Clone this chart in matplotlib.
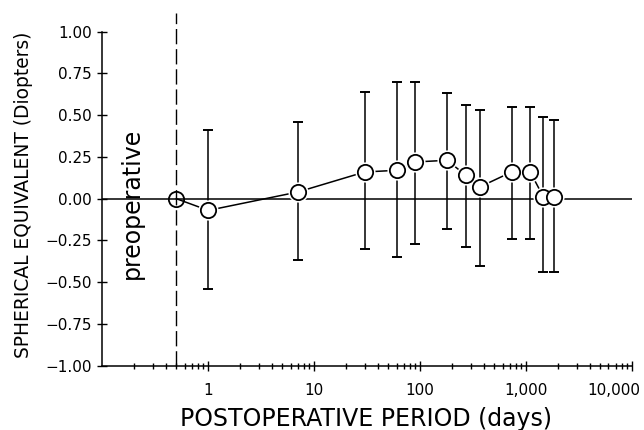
import matplotlib
matplotlib.use("Agg")
import matplotlib.pyplot as plt
from matplotlib.ticker import FixedLocator, FixedFormatter, LogLocator, NullFormatter
from matplotlib.transforms import ScaledTranslation

plt.rcParams['font.family'] = ['DejaVu Sans']

# Data
days = [1, 7, 30, 60, 90, 180, 270, 365, 730, 1095, 1460, 1825]
se_mean = [-0.07, 0.04, 0.16, 0.17, 0.22, 0.23, 0.14, 0.07, 0.16, 0.16, 0.01, 0.01]
se_upper = [0.41, 0.46, 0.64, 0.70, 0.70, 0.63, 0.56, 0.53, 0.55, 0.55, 0.49, 0.47]
se_lower = [-0.54, -0.37, -0.30, -0.35, -0.27, -0.18, -0.29, -0.40, -0.24, -0.24, -0.44, -0.44]
preop_day = 0.5
preop_value = 0.0

yticks = [1.0, 0.75, 0.5, 0.25, 0.0, -0.25, -0.5, -0.75, -1.0]
ytick_labels = ["1.00", "0.75", "0.50", "0.25", "0.00",
                "\u22120.25", "\u22120.50", "\u22120.75", "\u22121.00"]
xticks = [1, 10, 100, 1000, 10000]
xtick_labels = ["1", "10", "100", "1,000", "10,000"]

W, H = 644, 430
fig = plt.figure(figsize=(W / 100, H / 100), dpi=100)
ax_left, ax_right = 102.3, 632.0
ax_top, ax_bot = 13.0, 365.7
ax = fig.add_axes([ax_left / W, 1 - ax_bot / H, (ax_right - ax_left) / W, (ax_bot - ax_top) / H])

ax.set_xscale('log')
ax.set_xlim(0.1, 10000)
ax.set_ylim(-1.0, 1.112)

# zero line and preoperative dashed line
ax.axhline(0, color='black', lw=1.1, zorder=1)
ax.plot([preop_day, preop_day], [-1.0, 1.112], color='black', lw=1.0,
        dashes=(11, 3.5), zorder=1, clip_on=False)

all_x = [preop_day] + days
all_y = [preop_value] + se_mean

# connecting line
ax.plot(all_x, all_y, color='black', lw=1.1, zorder=2)

# error bars
yerr_low = [m - l for m, l in zip(se_mean, se_lower)]
yerr_high = [u - m for m, u in zip(se_mean, se_upper)]
ax.errorbar(days, se_mean, yerr=[yerr_low, yerr_high], fmt='none',
            ecolor='black', elinewidth=1.1, capsize=3.5, capthick=1.4, zorder=2)

# white halos then circles
ax.plot(days, se_mean, 'o', ms=14.5, mfc='white', mec='white', mew=0, zorder=3)
ax.plot(days, se_mean, 'o', ms=11.0, mfc='white', mec='black', mew=1.3, zorder=4)
ax.plot([preop_day], [preop_value], 'o', ms=11.0, mfc='none', mec='black', mew=1.3, zorder=4)

# spines
for s in ['top', 'right']:
    ax.spines[s].set_visible(False)
ax.spines['left'].set_bounds(-1.0, 1.0)
ax.spines['left'].set_linewidth(1.1)
ax.spines['bottom'].set_linewidth(1.1)

# ticks
ax.yaxis.set_major_locator(FixedLocator(yticks))
ax.yaxis.set_major_formatter(FixedFormatter(ytick_labels))
ax.xaxis.set_major_locator(FixedLocator(xticks))
ax.xaxis.set_major_formatter(FixedFormatter(xtick_labels))
ax.xaxis.set_minor_locator(LogLocator(base=10, subs=[2, 3, 4, 5, 6, 7, 8, 9], numticks=20))
ax.xaxis.set_minor_formatter(NullFormatter())
ax.tick_params(axis='y', direction='inout', length=7, width=1.0, labelsize=11, pad=4)
ax.tick_params(axis='x', which='major', direction='inout', length=7.5, width=1.0,
               labelsize=11, pad=9)
ax.tick_params(axis='x', which='minor', direction='inout', length=4.5, width=1.0)

# the last tick label sits shifted left in the reference (kept inside the image)
fig.canvas.draw()
last = ax.xaxis.get_major_ticks()[-1].label1
last.set_transform(last.get_transform() + ScaledTranslation(-18 / 100, 0, fig.dpi_scale_trans))

# labels
fig.text(24 / W, 1 - 195 / H, "SPHERICAL EQUIVALENT (Diopters)", rotation=90,
         ha='center', va='center', fontsize=13.4)
fig.text(366 / W, 1 - 426 / H, "POSTOPERATIVE PERIOD (days)",
         ha='center', va='baseline', fontsize=17)
ax.text(0.19, -0.03, "preoperative", rotation=90, ha='center', va='center', fontsize=17)

fig.savefig("out.png", dpi=100)
